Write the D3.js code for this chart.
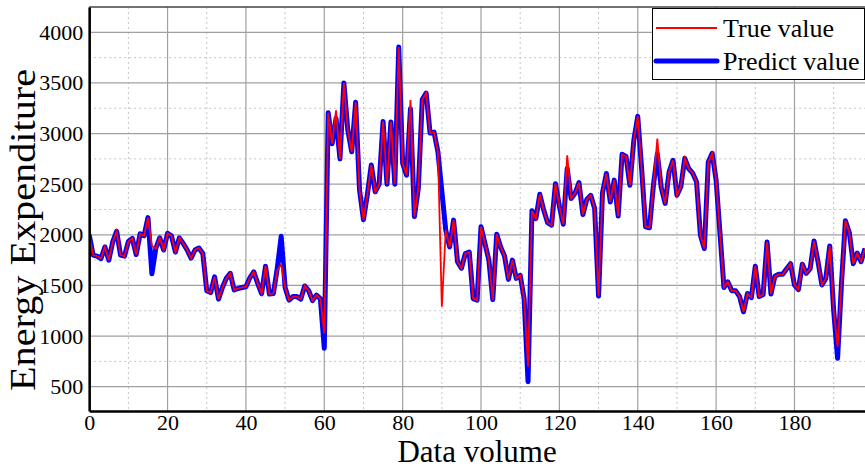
<!DOCTYPE html>
<html><head><meta charset="utf-8">
<script src="https://cdn.jsdelivr.net/npm/d3@7"></script>
<style>
body{margin:0;background:#fff}
svg{display:block}
text{font-family:"Liberation Serif","Times New Roman",serif;fill:#000}
</style>
</head><body>
<svg id="chart" width="865" height="468"></svg>
<script>
// ---- data ----
const xTickValues = [0,20,40,60,80,100,120,140,160,180];
const xMinorValues = [10,30,50,70,90,110,130,150,170,190];
const yTickValues = [500,1000,1500,2000,2500,3000,3500,4000];
const yMinorValues = [750,1250,1750,2250,2750,3250,3750];
const seriesNames = ["True value","Predict value"];

const trueValue = [
2000,1800,1790,1765,1880,1750,1930,2035,1800,1790,
1935,1965,1805,2010,1990,2170,1890,1865,1970,1850,
2015,1990,1830,1970,1915,1850,1770,1850,1870,1815,
1447,1430,1585,1365,1480,1570,1620,1455,1470,1480,
1487,1575,1635,1520,1420,1690,1415,1420,1650,1710,
1480,1355,1390,1390,1365,1495,1450,1350,1405,1370,
1025,3205,2900,3230,2750,3500,3035,2820,3310,2440,
2150,2400,2690,2425,2500,3120,2500,3115,2500,3855,
2705,2590,3330,2180,2460,3335,3400,3005,3015,2820,
1290,2045,1880,2145,1735,1670,1815,1830,1370,1355,
2080,1915,1750,1360,2005,1880,1790,1560,1750,1570,
1600,1370,700,2237,2160,2400,2245,2120,2095,2505,
2283,2105,2785,2360,2410,2515,2200,2350,2390,2260,
1395,2415,2605,2325,2540,2185,2795,2775,2490,2935,
3170,2650,2080,2070,2490,2950,2465,2310,2620,2735,
2390,2475,2755,2655,2610,2525,1995,1865,2720,2805,
2540,2010,1480,1535,1447,1447,1390,1240,1420,1380,
1690,1390,1410,1930,1415,1590,1610,1610,1665,1715,
1505,1460,1710,1620,1665,1940,1735,1505,1570,1890,
1255,895,1520,2140,2020,1715,1820,1735,1865
];

const predictValue = [
2000,1800,1790,1765,1880,1750,1930,2035,1800,1790,
1935,1965,1805,2010,1990,2170,1615,1865,1970,1850,
2015,1990,1830,1970,1915,1850,1770,1850,1870,1815,
1447,1430,1585,1365,1480,1570,1620,1455,1470,1480,
1487,1575,1635,1520,1420,1690,1415,1420,1670,1985,
1480,1355,1390,1390,1365,1495,1450,1350,1405,1370,
880,3205,2900,3150,2750,3500,3035,2820,3310,2440,
2150,2400,2690,2425,2500,3120,2500,3115,2500,3855,
2705,2590,3245,2180,2460,3335,3400,3005,3015,2820,
2430,2045,1880,2145,1735,1670,1815,1830,1370,1355,
2080,1915,1750,1360,2005,1880,1790,1560,1750,1570,
1600,1370,550,2237,2160,2400,2245,2120,2095,2505,
2283,2105,2655,2360,2410,2515,2200,2350,2390,2260,
1395,2415,2605,2325,2540,2185,2795,2775,2490,2935,
3170,2650,2080,2070,2490,2800,2465,2310,2620,2735,
2390,2475,2755,2655,2610,2525,1995,1865,2720,2805,
2540,2010,1480,1535,1447,1447,1390,1240,1420,1380,
1690,1390,1410,1930,1415,1590,1610,1610,1665,1715,
1505,1460,1710,1620,1665,1940,1735,1505,1570,1890,
1255,780,1520,2140,2020,1715,1820,1735,1865
];

// ---- layout ----
const FONT = "'Liberation Serif','Times New Roman',serif";
const plot = {left: 89.2, right: 865, top: 7, bottom: 411};
const svg = d3.select("#chart");

const x = d3.scaleLinear().domain([0, 198]).range([plot.left, plot.right]);
const y = d3.scaleLinear().domain([260, 4250]).range([plot.bottom, plot.top]);

svg.append("defs").append("clipPath").attr("id","clip")
  .append("rect").attr("x",plot.left).attr("y",plot.top)
  .attr("width",plot.right-plot.left).attr("height",plot.bottom-plot.top);

const grid = svg.append("g");
grid.selectAll(".mx").data(xMinorValues).enter().append("line")
  .attr("x1",d=>x(d)).attr("x2",d=>x(d)).attr("y1",plot.top).attr("y2",plot.bottom)
  .attr("stroke","#c4c4c4").attr("stroke-width",1).attr("stroke-dasharray","2,3");
grid.selectAll(".my").data(yMinorValues).enter().append("line")
  .attr("x1",plot.left).attr("x2",plot.right).attr("y1",d=>y(d)).attr("y2",d=>y(d))
  .attr("stroke","#c4c4c4").attr("stroke-width",1).attr("stroke-dasharray","2,3");
grid.selectAll(".Mx").data(xTickValues).enter().append("line")
  .attr("x1",d=>x(d)).attr("x2",d=>x(d)).attr("y1",plot.top).attr("y2",plot.bottom)
  .attr("stroke","#a0a0a0").attr("stroke-width",1.2);
grid.selectAll(".My").data(yTickValues).enter().append("line")
  .attr("x1",plot.left).attr("x2",plot.right).attr("y1",d=>y(d)).attr("y2",d=>y(d))
  .attr("stroke","#a0a0a0").attr("stroke-width",1.2);

svg.append("line").attr("x1",plot.left).attr("x2",plot.right)
  .attr("y1",plot.top).attr("y2",plot.top).attr("stroke","#444").attr("stroke-width",1.5);

// lines
const line = d3.line().x((d,i)=>x(i)).y(d=>y(d));
const lines = svg.append("g").attr("clip-path","url(#clip)");
lines.append("path").datum(predictValue).attr("d",line)
  .attr("fill","none").attr("stroke","#0000ff").attr("stroke-width",5)
  .attr("stroke-linejoin","round");
lines.append("path").datum(trueValue).attr("d",line)
  .attr("fill","none").attr("stroke","#ff0000").attr("stroke-width",1.8)
  .attr("stroke-linejoin","miter");

// axes
const xAxis = d3.axisBottom(x).tickValues(xTickValues).tickFormat(d3.format("d"))
  .tickSize(0).tickSizeOuter(0).tickPadding(3);
const gx = svg.append("g").attr("transform",`translate(0,${plot.bottom})`).call(xAxis)
  .attr("font-family",FONT).attr("font-size",22);
gx.select(".domain").attr("stroke","#000").attr("stroke-width",2.5);
gx.selectAll("text").attr("fill","#000");

const yAxis = d3.axisLeft(y).tickValues(yTickValues).tickFormat(d3.format("d"))
  .tickSize(0).tickSizeOuter(0).tickPadding(6);
const gy = svg.append("g").attr("transform",`translate(${plot.left},0)`).call(yAxis)
  .attr("font-family",FONT).attr("font-size",22);
gy.select(".domain").attr("stroke","#000").attr("stroke-width",2.5);
gy.selectAll("text").attr("fill","#000");

// axis titles
svg.append("text").attr("x",(plot.left+plot.right)/2).attr("y",462)
  .attr("text-anchor","middle").attr("font-family",FONT).style("font-size","31px").text("Data volume");
svg.append("text").attr("transform","translate(35,230) rotate(-90)")
  .attr("text-anchor","middle").attr("font-family",FONT).style("font-size","35px")
  .attr("textLength",322).attr("lengthAdjust","spacingAndGlyphs")
  .text("Energy Expenditure");

// legend
const lg = svg.append("g");
lg.append("rect").attr("x",652.5).attr("y",8.5).attr("width",212).attr("height",71)
  .attr("fill","#fff").attr("stroke","#000").attr("stroke-width",1);
const legendItems = [
  {name: seriesNames[0], color:"#ff0000", w:1.8, yy:28},
  {name: seriesNames[1], color:"#0000ff", w:5, yy:61}
];
legendItems.forEach(it=>{
  lg.append("line").attr("x1",656).attr("x2",717).attr("y1",it.yy).attr("y2",it.yy)
    .attr("stroke",it.color).attr("stroke-width",it.w).attr("stroke-linecap", it.w>3?"round":"butt");
  lg.append("text").attr("x",723).attr("y",it.yy+9).attr("font-family",FONT)
    .style("font-size","26px").text(it.name);
});
</script>
</body></html>
